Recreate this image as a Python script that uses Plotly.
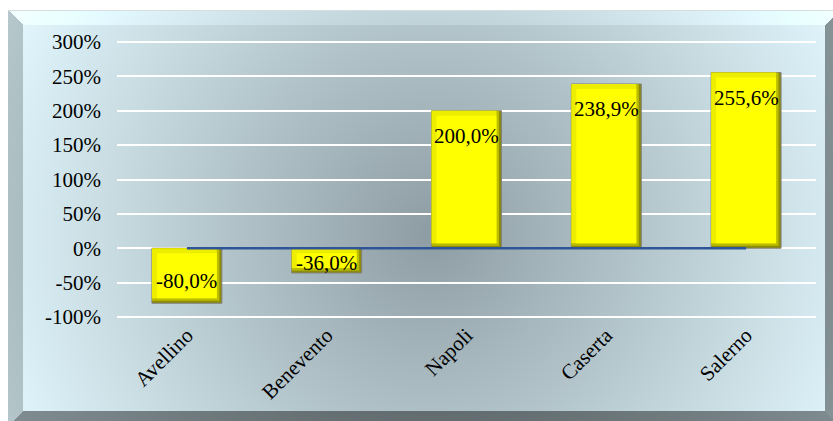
import base64
import struct
import zlib

import numpy as np
import plotly.graph_objects as go

# ---- data -------------------------------------------------------------
provinces = ["Avellino", "Benevento", "Napoli", "Caserta", "Salerno"]
variation_pct = [-80.0, -36.0, 200.0, 238.9, 255.6]
y_tick_values = [-100, -50, 0, 50, 100, 150, 200, 250, 300]
y_tick_labels = ["-100%", "-50%", "0%", "50%", "100%", "150%", "200%", "250%", "300%"]

# ---- geometry ---------------------------------------------------------
FIG_W, FIG_H = 833, 421
M_L, M_R, M_T, M_B = 117, 17, 41, 103
PLOT_W = FIG_W - M_L - M_R
PLOT_H = FIG_H - M_T - M_B
Y_RANGE = (-101.5, 301.5)
px_per_unit_y = PLOT_H / (Y_RANGE[1] - Y_RANGE[0])
px_per_cat = PLOT_W / len(provinces)

SERIF = "Liberation Serif, Times New Roman, serif"


# ---- background: bevelled panel with a radial grey-blue gradient -------
def make_png(arr):
    h, w, _ = arr.shape
    raw = b"".join(b"\x00" + arr[i].tobytes() for i in range(h))

    def chunk(tag, data):
        body = tag + data
        return struct.pack(">I", len(data)) + body + struct.pack(">I", zlib.crc32(body) & 0xFFFFFFFF)

    return (b"\x89PNG\r\n\x1a\n"
            + chunk(b"IHDR", struct.pack(">IIBBBBB", w, h, 8, 2, 0, 0, 0))
            + chunk(b"IDAT", zlib.compress(raw, 9))
            + chunk(b"IEND", b""))


yy, xx = np.mgrid[0:FIG_H, 0:FIG_W].astype(float)
dist = np.clip(np.hypot(xx - 430, yy - 232) / 460.0, 0, 1.05)
face = np.stack([142 + 83 * dist, 157 + 90 * dist, 163 + 90 * dist], axis=-1)

img = np.full((FIG_H, FIG_W, 3), 255.0)
ox0, oy0, ox1, oy1, bev = 8, 10, 840, 426, 15
in_panel = (xx >= ox0) & (yy >= oy0) & (xx < ox1) & (yy < oy1)
img[in_panel] = face[in_panel]

d_left = xx - ox0
d_top = yy - oy0
d_right = ox1 - 1 - xx
d_bottom = oy1 - 1 - yy
dists = np.stack([d_left, d_top, d_right, d_bottom], axis=-1)
side = np.argmin(dists, axis=-1)
in_bevel = in_panel & (dists.min(axis=-1) < bev)
shade = np.array([0.80, 1.07, 0.60, 0.57])
img[in_bevel] = np.clip(face[in_bevel] * shade[side[in_bevel]][:, None], 0, 255)
# thin light rim along the panel top
rim = (yy == oy0) & (xx >= ox0)
img[rim] = [215, 220, 222]

bg_uri = "data:image/png;base64," + base64.b64encode(make_png(img.astype(np.uint8))).decode()

# ---- bars: stacked layers give a bevelled look --------------------------
bar_w = 0.5
bev_px = 5
bev_x = bev_px / px_per_cat
bev_y = bev_px / px_per_unit_y

lo = [min(0.0, v) for v in variation_pct]
hi = [max(0.0, v) for v in variation_pct]

fig = go.Figure()

# outer body (dark right / bottom edges)
fig.add_trace(go.Bar(
    x=provinces, y=[h - l for h, l in zip(hi, lo)], base=lo,
    width=bar_w, offset=-bar_w / 2,
    marker=dict(color="#8C8C06", line=dict(color="#7F7F7F", width=1)),
    hoverinfo="skip", showlegend=False,
))
# softer inner ring towards the right / bottom
fig.add_trace(go.Bar(
    x=provinces, y=[h - l - bev_y * 0.5 for h, l in zip(hi, lo)], base=[l + bev_y * 0.5 for l in lo],
    width=bar_w - bev_x * 0.5, offset=-bar_w / 2,
    marker=dict(color="#BDBD00", line=dict(width=0)),
    hoverinfo="skip", showlegend=False,
))
# lighter top / left edges
fig.add_trace(go.Bar(
    x=provinces, y=[h - l - bev_y for h, l in zip(hi, lo)], base=[l + bev_y for l in lo],
    width=bar_w - bev_x, offset=-bar_w / 2,
    marker=dict(color="#EDED00", line=dict(width=0)),
    hoverinfo="skip", showlegend=False,
))
# bright face
fig.add_trace(go.Bar(
    x=provinces, y=[max(h - l - 2 * bev_y, 0) for h, l in zip(hi, lo)], base=[l + bev_y for l in lo],
    width=bar_w - 2 * bev_x, offset=-bar_w / 2 + bev_x,
    marker=dict(color="#FFFF00", line=dict(width=0)),
    hovertemplate="%{x}<extra></extra>", showlegend=False,
))

# zero baseline spanning the categories
fig.add_trace(go.Scatter(
    x=provinces, y=[0] * len(provinces), mode="lines",
    line=dict(color="#2F5597", width=2.5),
    hoverinfo="skip", showlegend=False,
))

# value labels placed just inside the outer end of each bar
annotations = []
for name, v in zip(provinces, variation_pct):
    bar_px = abs(v) * px_per_unit_y
    shift = min(25.0, 0.4 * bar_px)
    annotations.append(dict(
        x=name, y=v, xref="x", yref="y",
        text=f"{v:.1f}".replace(".", ",") + "%",
        showarrow=False, yanchor="middle",
        yshift=-shift if v >= 0 else shift,
        font=dict(family=SERIF, size=21, color="black"),
    ))

fig.update_layout(
    width=FIG_W, height=FIG_H,
    margin=dict(l=M_L, r=M_R, t=M_T, b=M_B, pad=0),
    paper_bgcolor="white",
    plot_bgcolor="rgba(0,0,0,0)",
    barmode="overlay",
    showlegend=False,
    annotations=annotations,
    images=[dict(
        source=bg_uri, xref="paper", yref="paper",
        x=-M_L / PLOT_W, y=1 + M_T / PLOT_H,
        sizex=FIG_W / PLOT_W, sizey=FIG_H / PLOT_H,
        xanchor="left", yanchor="top", sizing="stretch", layer="below",
    )],
    font=dict(family=SERIF, size=21, color="black"),
)

fig.update_xaxes(
    showgrid=False, zeroline=False, showline=False, ticks="",
    tickangle=-45, tickfont=dict(family=SERIF, size=21, color="black"),
    range=[-0.5, len(provinces) - 0.5],
)
fig.update_yaxes(
    range=list(Y_RANGE), tickvals=y_tick_values, ticktext=y_tick_labels,
    showgrid=True, gridcolor="white", gridwidth=2,
    zeroline=False, showline=False, ticks="",
    ticklabelstandoff=15,
    tickfont=dict(family=SERIF, size=21, color="black"),
)

fig.write_html("out.html")
